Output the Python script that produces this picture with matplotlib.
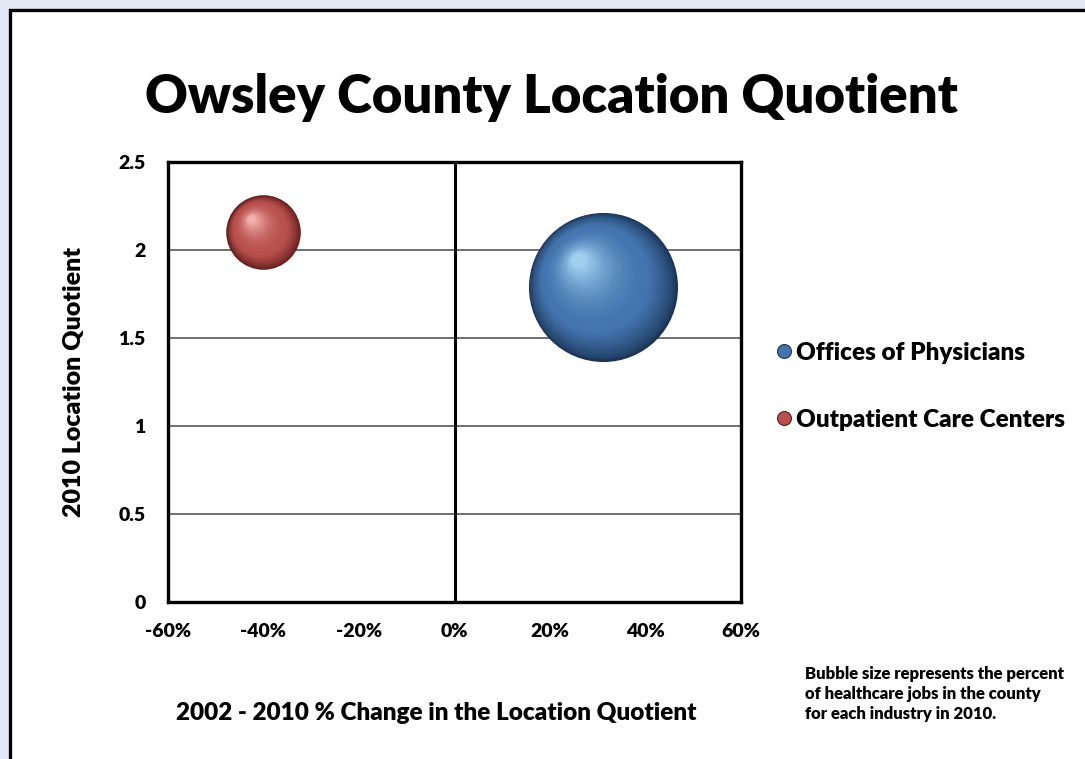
import numpy as np
import matplotlib
matplotlib.use("Agg")
from matplotlib import pyplot as plt
from matplotlib import transforms
from matplotlib.colors import to_rgb
from matplotlib.lines import Line2D
from matplotlib.patches import Rectangle

plt.rcParams['font.family'] = ['Lato', 'DejaVu Sans']
plt.rcParams['font.weight'] = 'heavy'

# data
industries = ['Offices of Physicians', 'Outpatient Care Centers']
pct_change = [31, -40]          # 2002 - 2010 % change in LQ
lq_2010 = [1.79, 2.10]          # 2010 location quotient
job_share = [40, 10]            # % of healthcare jobs (bubble size)

x_ticks = [-60, -40, -20, 0, 20, 40, 60]
y_ticks = [0, 0.5, 1, 1.5, 2, 2.5]

# colours: edge (dark), body, highlight
palette = [('#1c3557', '#4374ae', '#9fd0f0'),
           ('#5e1a19', '#b8504d', '#f3b0ad')]

fig = plt.figure(figsize=(10.85, 7.59), dpi=100)
fig.patch.set_facecolor('#e2e8f5')
fig.add_artist(Rectangle((0.0092, -0.02), 1.1, 1.007, transform=fig.transFigure,
                         facecolor='white', edgecolor='black', linewidth=2.4,
                         zorder=-10))

ax = fig.add_axes([0.1548, 0.2069, 0.5282, 0.5797])
ax.set_xlim(-60, 60)
ax.set_ylim(0, 2.5)
ax.set_xticks(x_ticks)
ax.set_xticklabels([f'{t}%' for t in x_ticks])
ax.set_yticks(y_ticks)
ax.set_yticklabels(['0', '0.5', '1', '1.5', '2', '2.5'])
ax.tick_params(length=0, labelsize=14, pad=15)
ax.tick_params(axis='y', pad=16)
for lbl in ax.get_xticklabels() + ax.get_yticklabels():
    lbl.set_fontweight('heavy')
ax.grid(axis='y', color='#707070', linewidth=1.4)
ax.set_axisbelow(True)
for sp in ax.spines.values():
    sp.set_linewidth(2.4)
ax.axvline(0, color='black', linewidth=2.2, zorder=1.5)

# bubble sizes: area proportional to job share
k = 288.0
n_layers = 40
for i in range(len(industries)):
    edge, body, hi = [np.array(to_rgb(c)) for c in palette[i]]
    s = job_share[i] * k
    R = np.sqrt(s) / 2.0  # radius in points
    for j in range(n_layers):
        t = j / (n_layers - 1)
        r = R * (1 - 0.9 * t)
        d = R - r
        if t < 0.3:
            col = edge + (body - edge) * (t / 0.3) ** 0.7
        else:
            col = body + (hi - body) * ((t - 0.3) / 0.7) ** 2
        tr = transforms.offset_copy(ax.transData, fig=fig, x=-0.36 * d, y=0.4 * d,
                                    units='points')
        ax.scatter([pct_change[i]], [lq_2010[i]], s=(2 * r) ** 2, color=col,
                   linewidths=0, transform=tr, zorder=3 + j * 0.01)

handles = [Line2D([], [], linestyle='none', marker='o', markersize=10,
                  markerfacecolor=palette[i][1], markeredgecolor=palette[i][0],
                  markeredgewidth=0.8) for i in range(len(industries))]
ax.legend(handles, industries, loc='center left', bbox_to_anchor=(1.045, 0.49),
          frameon=False, handlelength=0.6, handletextpad=0.2,
          labelspacing=1.85, borderaxespad=0,
          prop={'size': 17.5, 'weight': 'heavy'})

fig.text(0.508, 0.871, 'Owsley County Location Quotient', ha='center', va='center',
         fontsize=38, fontweight='heavy')
ax.set_xlabel('2002 - 2010 % Change in the Location Quotient', fontsize=17.5,
              fontweight='heavy')
ax.xaxis.set_label_coords(0.469, -0.228)
ax.set_ylabel('2010 Location Quotient', fontsize=18, fontweight='heavy', labelpad=24)
fig.text(0.742, 0.086, 'Bubble size represents the percent\nof healthcare jobs in the county\nfor each industry in 2010.',
         fontsize=12, fontweight='heavy', ha='left', va='center', linespacing=1.3)

fig.savefig('out.png', dpi=100, facecolor=fig.get_facecolor())
